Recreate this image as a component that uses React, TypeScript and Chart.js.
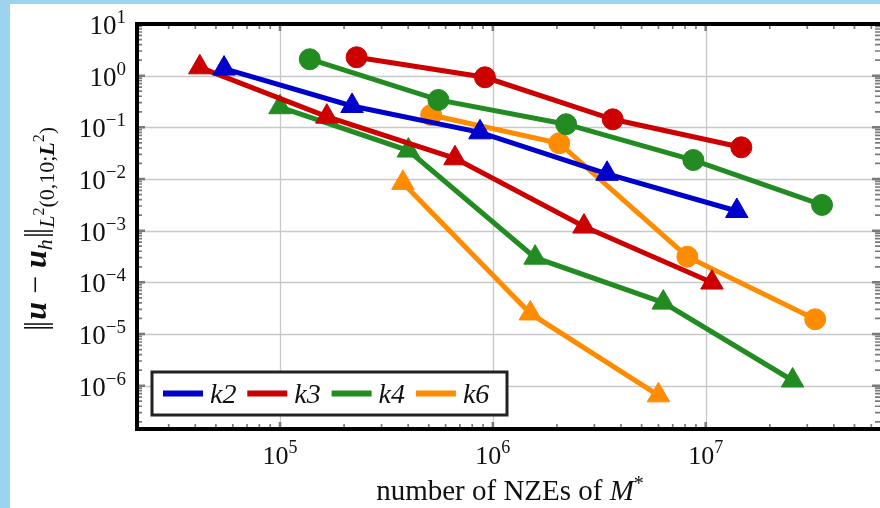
import React, { useEffect, useRef } from 'react';
import { Chart, registerables } from 'chart.js';
Chart.register(...registerables);

// ---- data ----
const k2TriX = [5.46e4, 2.18e5, 8.7e5, 3.44e6, 1.4e7];
const k2TriY = [1.37, 0.259, 0.08, 0.0126, 2.4e-3];
const k3TriX = [4.2e4, 1.66e5, 6.64e5, 2.68e6, 1.07e7];
const k3TriY = [1.45, 0.161, 0.0252, 1.2e-3, 9.9e-5];
const k4TriX = [1.0e5, 4.01e5, 1.58e6, 6.32e6, 2.56e7];
const k4TriY = [0.245, 0.0355, 3.0e-4, 4.05e-5, 1.26e-6];
const k6TriX = [3.78e5, 1.5e6, 6.0e6];
const k6TriY = [8.4e-3, 2.5e-5, 6.5e-7];
const k3CircX = [2.29e5, 9.18e5, 3.66e6, 1.47e7];
const k3CircY = [2.27, 0.93, 0.143, 0.0411];
const k4CircX = [1.38e5, 5.55e5, 2.21e6, 8.75e6, 3.52e7];
const k4CircY = [2.08, 0.339, 0.115, 0.0233, 3.15e-3];
const k6CircX = [5.13e5, 2.05e6, 8.2e6, 3.27e7];
const k6CircY = [0.173, 0.0492, 3.14e-4, 1.93e-5];

const legendLabels = ['k2', 'k3', 'k4', 'k6'];
const xTickExps = [5, 6, 7];
const yTickExps = [1, 0, -1, -2, -3, -4, -5, -6];
const xTitle = 'number of NZEs of ';

const BLUE = '#0000cc';
const RED = '#cc0000';
const GREEN = '#228b22';
const ORANGE = '#ff8c00';
const legendColors = [BLUE, RED, GREEN, ORANGE];

const SERIF = '"Liberation Serif", "Times New Roman", serif';

type Run = { t: string; font: string; dy?: number; dx?: number };

function richWidth(ctx: CanvasRenderingContext2D, runs: Run[]) {
  let w = 0;
  for (const r of runs) {
    ctx.font = r.font;
    w += ctx.measureText(r.t).width + (r.dx || 0);
  }
  return w;
}

function drawRich(ctx: CanvasRenderingContext2D, runs: Run[], x: number, y: number, align: 'left' | 'center' | 'right') {
  const w = richWidth(ctx, runs);
  let cx = align === 'center' ? x - w / 2 : align === 'right' ? x - w : x;
  ctx.textAlign = 'left';
  ctx.textBaseline = 'alphabetic';
  for (const r of runs) {
    ctx.font = r.font;
    ctx.fillText(r.t, cx, y + (r.dy || 0));
    cx += ctx.measureText(r.t).width + (r.dx || 0);
  }
}

function supExp(e: number) {
  return e < 0 ? '\u2212' + String(-e) : String(e);
}

const decor = {
  id: 'decor',
  beforeDraw(chart: any) {
    const ctx: CanvasRenderingContext2D = chart.ctx;
    const { width, height } = chart;
    ctx.save();
    ctx.fillStyle = '#ffffff';
    ctx.fillRect(0, 0, width, height);
    ctx.fillStyle = '#9cd3ee';
    ctx.fillRect(0, 0, width, 4);
    ctx.fillRect(0, 0, 10, height);
    ctx.restore();
  },
  beforeDatasetsDraw(chart: any) {
    const ctx: CanvasRenderingContext2D = chart.ctx;
    const { left, right, top, bottom } = chart.chartArea;
    const xs = chart.scales.x;
    const ys = chart.scales.y;
    ctx.save();
    ctx.strokeStyle = '#c8c8c8';
    ctx.lineWidth = 1.3;
    for (const e of xTickExps) {
      const px = Math.round(xs.getPixelForValue(Math.pow(10, e))) + 0.5;
      ctx.beginPath();
      ctx.moveTo(px, top);
      ctx.lineTo(px, bottom);
      ctx.stroke();
    }
    for (const e of yTickExps) {
      const py = Math.round(ys.getPixelForValue(Math.pow(10, e))) + 0.5;
      ctx.beginPath();
      ctx.moveTo(left, py);
      ctx.lineTo(right, py);
      ctx.stroke();
    }
    ctx.restore();
  },
  afterDatasetsDraw(chart: any) {
    const ctx: CanvasRenderingContext2D = chart.ctx;
    const { left, right, top, bottom } = chart.chartArea;
    const xs = chart.scales.x;
    const ys = chart.scales.y;
    ctx.save();

    // ticks (inside)
    ctx.strokeStyle = '#7a7a7a';
    const inX = (v: number) => v >= xs.min && v <= xs.max;
    const inY = (v: number) => v >= ys.min && v <= ys.max;
    for (let e = 4; e <= 8; e++) {
      for (let m = 1; m <= 9; m++) {
        const v = m * Math.pow(10, e);
        if (!inX(v)) continue;
        const major = m === 1;
        const len = major ? 7 : 5;
        ctx.lineWidth = major ? 2.5 : 1.7;
        const px = xs.getPixelForValue(v);
        ctx.beginPath();
        ctx.moveTo(px, bottom);
        ctx.lineTo(px, bottom - len);
        ctx.moveTo(px, top);
        ctx.lineTo(px, top + len);
        ctx.stroke();
      }
    }
    for (let e = -8; e <= 1; e++) {
      for (let m = 1; m <= 9; m++) {
        const v = m * Math.pow(10, e);
        if (!inY(v)) continue;
        const major = m === 1;
        const len = major ? 8 : 5;
        ctx.lineWidth = major ? 2.5 : 1.7;
        const py = ys.getPixelForValue(v);
        ctx.beginPath();
        ctx.moveTo(left, py);
        ctx.lineTo(left + len, py);
        ctx.moveTo(right, py);
        ctx.lineTo(right - len, py);
        ctx.stroke();
      }
    }

    // frame (right side lies outside the picture)
    ctx.strokeStyle = '#000000';
    ctx.lineWidth = 4;
    ctx.beginPath();
    ctx.moveTo(right + 10, top);
    ctx.lineTo(left, top);
    ctx.lineTo(left, bottom);
    ctx.lineTo(right + 10, bottom);
    ctx.stroke();

    // tick labels
    ctx.fillStyle = '#111111';
    for (const e of xTickExps) {
      const px = xs.getPixelForValue(Math.pow(10, e));
      drawRich(
        ctx,
        [
          { t: '10', font: `26px ${SERIF}` },
          { t: supExp(e), font: `18px ${SERIF}`, dy: -11 },
        ],
        px,
        bottom + 35,
        'center'
      );
    }
    for (const e of yTickExps) {
      const py = ys.getPixelForValue(Math.pow(10, e));
      drawRich(
        ctx,
        [
          { t: '10', font: `27px ${SERIF}` },
          { t: supExp(e), font: `19px ${SERIF}`, dy: -11 },
        ],
        left - 11,
        py + 10,
        'right'
      );
    }

    // x title
    drawRich(
      ctx,
      [
        { t: xTitle, font: `29px ${SERIF}` },
        { t: 'M', font: `italic 29px ${SERIF}` },
        { t: '*', font: `20px ${SERIF}`, dy: -10 },
      ],
      510,
      500,
      'center'
    );

    // y title (rotated)
    ctx.save();
    ctx.translate(46, 229);
    ctx.rotate(-Math.PI / 2);
    const bar = `32px ${SERIF}`;
    drawRich(
      ctx,
      [
        { t: '|', font: bar, dx: -2.5 },
        { t: '|', font: bar, dx: 1 },
        { t: 'u', font: `italic bold 32px ${SERIF}` },
        { t: ' \u2212 ', font: `32px ${SERIF}` },
        { t: 'u', font: `italic bold 32px ${SERIF}` },
        { t: 'h', font: `italic 22px ${SERIF}`, dy: 6, dx: 1 },
        { t: '|', font: bar, dx: -2.5 },
        { t: '|', font: bar, dx: 0 },
        { t: 'L', font: `italic 22px ${SERIF}`, dy: 8 },
        { t: '2', font: `16px ${SERIF}`, dy: -2 },
        { t: '(0,10;', font: `22px ${SERIF}`, dy: 8 },
        { t: 'L', font: `italic bold 22px ${SERIF}`, dy: 8 },
        { t: '2', font: `16px ${SERIF}`, dy: -2 },
        { t: ')', font: `22px ${SERIF}`, dy: 8 },
      ],
      0,
      0,
      'center'
    );
    ctx.restore();

    // legend
    const bx = left + 15;
    const by = bottom - 57;
    const bw = 355;
    const bh = 43;
    ctx.fillStyle = '#ffffff';
    ctx.fillRect(bx, by, bw, bh);
    ctx.strokeStyle = '#222222';
    ctx.lineWidth = 3;
    ctx.strokeRect(bx, by, bw, bh);
    const cy = by + bh / 2;
    legendLabels.forEach((lab, i) => {
      const x0 = bx + 11 + i * 84.3;
      ctx.strokeStyle = legendColors[i];
      ctx.lineWidth = 6;
      ctx.beginPath();
      ctx.moveTo(x0, cy);
      ctx.lineTo(x0 + 40, cy);
      ctx.stroke();
      ctx.fillStyle = '#111111';
      ctx.font = `italic 28px ${SERIF}`;
      ctx.textAlign = 'left';
      ctx.textBaseline = 'alphabetic';
      ctx.fillText(lab, x0 + 47, cy + 9);
    });

    ctx.restore();
  },
};

function ds(label: string, xsArr: number[], ysArr: number[], color: string, style: string, radius: number) {
  return {
    label,
    data: xsArr.map((x, i) => ({ x, y: ysArr[i] })),
    borderColor: color,
    backgroundColor: color,
    borderWidth: 5,
    pointStyle: style,
    pointRadius: radius,
    pointBorderWidth: 1,
    pointBackgroundColor: color,
    pointBorderColor: color,
    fill: false,
    tension: 0,
    clip: false,
  };
}

export default function App() {
  const ref = useRef<HTMLCanvasElement | null>(null);
  useEffect(() => {
    if (!ref.current) return;
    const chart = new Chart(ref.current, {
      type: 'line',
      data: {
        datasets: [
          ds('k2', k2TriX, k2TriY, BLUE, 'triangle', 13),
          ds('k3', k3TriX, k3TriY, RED, 'triangle', 13),
          ds('k4', k4TriX, k4TriY, GREEN, 'triangle', 13),
          ds('k6', k6TriX, k6TriY, ORANGE, 'triangle', 13),
          ds('k3 (circle)', k3CircX, k3CircY, RED, 'circle', 10.5),
          ds('k4 (circle)', k4CircX, k4CircY, GREEN, 'circle', 10.5),
          ds('k6 (circle)', k6CircX, k6CircY, ORANGE, 'circle', 10.5),
        ] as any,
      },
      options: {
        animation: false,
        responsive: false,
        maintainAspectRatio: false,
        layout: { autoPadding: false, padding: { left: 137, top: 24, right: 0, bottom: 79 } },
        scales: {
          x: { type: 'logarithmic', min: 21290, max: 6.59e7, display: false },
          y: { type: 'logarithmic', min: 1.45e-7, max: 10, display: false },
        },
        plugins: { legend: { display: false }, tooltip: { enabled: false } },
      } as any,
      plugins: [decor],
    });
    return () => chart.destroy();
  }, []);
  return (
    <div style={{ position: 'absolute', left: 0, top: 0, width: 880, height: 508 }}>
      <canvas ref={ref} width={880} height={508} style={{ display: 'block' }} />
    </div>
  );
}
